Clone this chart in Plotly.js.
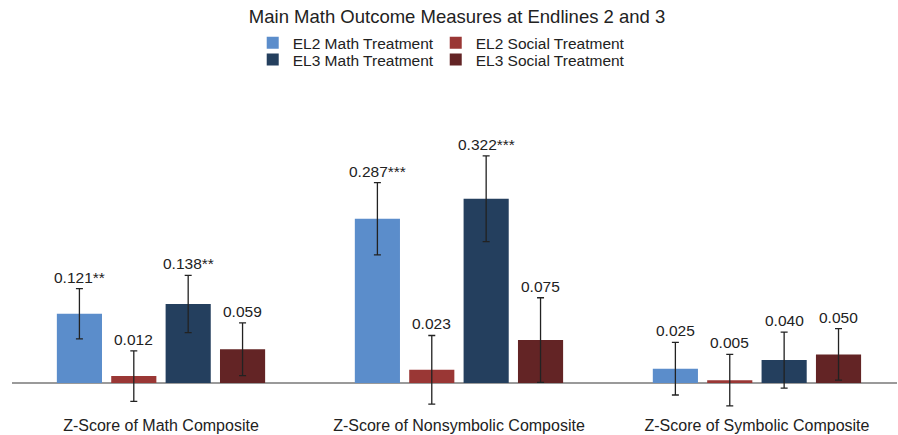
<!DOCTYPE html>
<html>
<head>
<meta charset="utf-8">
<script src="https://cdn.plot.ly/plotly-3.0.1.min.js"></script>
<style>html,body{margin:0;padding:0;background:#fff;}#chart{width:898px;height:435px;}</style>
</head>
<body>
<div id="chart"></div>
<script>
const categories = ['Z-Score of Math Composite', 'Z-Score of Nonsymbolic Composite', 'Z-Score of Symbolic Composite'];
const seriesNames = ['EL2 Math Treatment', 'EL2 Social Treatment', 'EL3 Math Treatment', 'EL3 Social Treatment'];

const el2Math = [0.121, 0.287, 0.025];
const el2MathErr = [0.044, 0.063, 0.046];
const el2MathLabels = ['0.121**', '0.287***', '0.025'];

const el2Social = [0.012, 0.023, 0.005];
const el2SocialErr = [0.044, 0.060, 0.045];
const el2SocialLabels = ['0.012', '0.023', '0.005'];

const el3Math = [0.138, 0.322, 0.040];
const el3MathErr = [0.050, 0.075, 0.049];
const el3MathLabels = ['0.138**', '0.322***', '0.040'];

const el3Social = [0.059, 0.075, 0.050];
const el3SocialErr = [0.046, 0.074, 0.045];
const el3SocialLabels = ['0.059', '0.075', '0.050'];

const colors = ['#5B8DCB', '#9A3735', '#243F5E', '#632425'];
const values = [el2Math, el2Social, el3Math, el3Social];
const errors = [el2MathErr, el2SocialErr, el3MathErr, el3SocialErr];
const labels = [el2MathLabels, el2SocialLabels, el3MathLabels, el3SocialLabels];
const legendIds = ['legend', 'legend2', 'legend3', 'legend4'];

const FONT = 'Liberation Sans, Arial, Helvetica, sans-serif';
const bargap = 0.27;
const bargroupgap = 0.17;

const traces = values.map((v, i) => ({
  type: 'bar',
  name: seriesNames[i],
  x: categories,
  y: v,
  legend: legendIds[i],
  marker: {color: colors[i], line: {width: 0}},
  error_y: {type: 'data', array: errors[i], visible: true, color: '#222222', thickness: 1.3, width: 3.5},
  hoverinfo: 'skip'
}));

// labels above the error bars, positioned from the bar group geometry
const nSeries = values.length;
const slot = (1 - bargap) / nSeries;
const annotations = [];
values.forEach((v, i) => {
  v.forEach((val, c) => {
    annotations.push({
      x: c - (1 - bargap) / 2 + slot * (i + 0.5),
      y: val + errors[i][c],
      xref: 'x', yref: 'y',
      text: labels[i][c],
      showarrow: false,
      xanchor: 'center', yanchor: 'bottom', yshift: 1,
      font: {family: FONT, size: 15.5, color: '#222222'}
    });
  });
});

const legendFont = {family: FONT, size: 15.5, color: '#222222'};
function legendAt(x, y) {
  return {orientation: 'h', x: x, xanchor: 'left', y: y, yanchor: 'middle', font: legendFont, bgcolor: 'rgba(0,0,0,0)'};
}

const layout = {
  width: 898, height: 435,
  margin: {l: 12, r: 1, t: 90, b: 25},
  paper_bgcolor: '#ffffff', plot_bgcolor: '#ffffff',
  font: {family: FONT, color: '#222222'},
  title: {text: 'Main Math Outcome Measures at Endlines 2 and 3', x: 0.509, xanchor: 'center', y: 0.961, yanchor: 'middle', font: {family: FONT, size: 18.5, color: '#222222'}},
  barmode: 'group', bargap: bargap, bargroupgap: bargroupgap,
  showlegend: true,
  legend: legendAt(0.272, 1.146),
  legend2: legendAt(0.4788, 1.146),
  legend3: legendAt(0.272, 1.094),
  legend4: legendAt(0.4788, 1.094),
  xaxis: {type: 'category', range: [-0.5, 2.47], showgrid: false, showline: false, ticks: '', zeroline: false, ticklabelstandoff: 4, tickfont: {family: FONT, size: 16, color: '#222222'}, fixedrange: true},
  yaxis: {range: [-0.0472, 0.512], showgrid: false, showline: false, ticks: '', showticklabels: false, zeroline: true, zerolinecolor: '#9a9a9a', zerolinewidth: 1.5, fixedrange: true},
  annotations: annotations
};

Plotly.newPlot('chart', traces, layout, {displayModeBar: false, staticPlot: true});
</script>
</body>
</html>
